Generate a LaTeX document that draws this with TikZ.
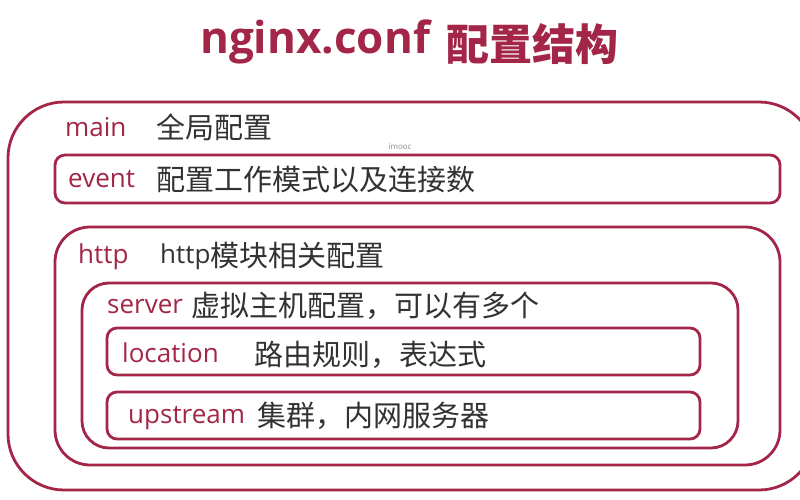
\documentclass[tikz,border=0pt]{standalone}
\usepackage{fontspec}
\setmainfont{Open Sans}
\newfontfamily\cjk{Noto Sans CJK SC}
\definecolor{crim}{RGB}{163,38,72}
\definecolor{txt}{RGB}{50,50,50}
\begin{document}
\begin{tikzpicture}[x=1pt,y=-1pt,
  frame/.style={draw=crim,line width=2.8pt},
  lab/.style={anchor=base west,inner sep=0pt,text=crim,font=\fontsize{26}{30}\selectfont},
  desc/.style={anchor=base west,inner sep=0pt,text=txt,font=\cjk\fontsize{29}{32}\selectfont}]
\useasboundingbox (0,0) rectangle (800,500);
\fill[white] (0,0) rectangle (800,500);
\begin{scope}
\clip (0,0) rectangle (800,500);
\draw[frame,rounded corners=56pt] (8,102) rectangle (815,490);
\end{scope}
% boxes
\draw[frame,rounded corners=10pt] (55,155) rectangle (780,203);
\draw[frame,rounded corners=35pt] (55,227) rectangle (780,465);
\draw[frame,rounded corners=27pt] (82,283) rectangle (738,448);
\draw[frame,rounded corners=10pt] (107,328) rectangle (700,375);
\draw[frame,rounded corners=10pt] (107,392) rectangle (700,439);
% title
\node[anchor=base west,inner sep=0pt,text=crim,font=\bfseries\fontsize{44}{48}\selectfont] (t1) at (200,54) {nginx.conf};
\node[anchor=base west,inner sep=0pt,text=crim,font=\cjk\bfseries\fontsize{43}{46}\selectfont] (t2) at (446,61) {配置结构};
% watermark
\node[inner sep=0pt,text=black!45,font=\fontsize{8}{9}\selectfont] (wm) at (400,147) {imooc};
% labels
\node[lab] (l1) at (65,136) {main};
\node[desc] (d1) at (156,139) {全局配置};
\node[lab] (l2) at (68,187) {event};
\node[desc] (d2) at (156,190) {配置工作模式以及连接数};
\node[lab] (l3) at (78,263) {http};
\node[desc] (d3) at (160,266) {\raisebox{3pt}{\fontspec{Open Sans}\fontsize{26}{30}\selectfont http}模块相关配置};
\node[lab] (l4) at (107,313) {server};
\node[desc] (d4) at (191,316) {虚拟主机配置，可以有多个};
\node[lab] (l5) at (122,362) {location};
\node[desc] (d5) at (254,365) {路由规则，表达式};
\node[lab] (l6) at (128,423) {upstream};
\node[desc] (d6) at (257,426) {集群，内网服务器};
\end{tikzpicture}
\end{document}
